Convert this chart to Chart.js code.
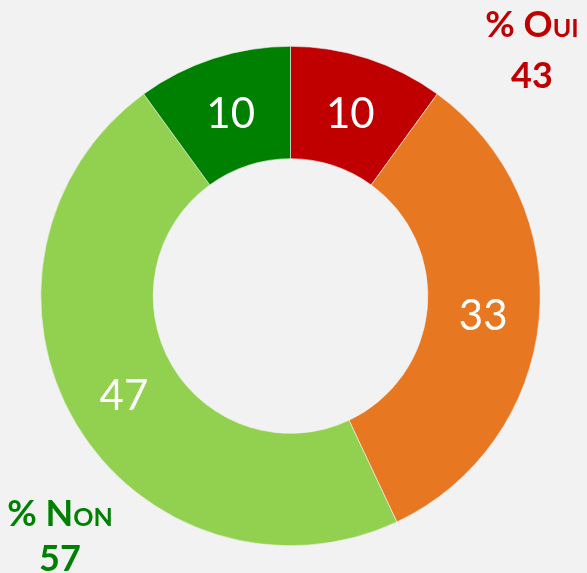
<!DOCTYPE html>
<html>
<head>
<meta charset="utf-8">
<script src="https://cdn.jsdelivr.net/npm/chart.js@4"></script>
<style>
  html, body { margin: 0; padding: 0; background: #f2f2f2; }
  #wrap { width: 587px; height: 573px; }
</style>
</head>
<body>
<div id="wrap"><canvas id="chartVote"></canvas></div>
<script>
// data
let categories = ['Oui tout à fait', 'Oui plutôt', 'Non plutôt pas', 'Non pas du tout'];
let values = [10, 33, 47, 10];
let colors = ['#c00000', '#e87722', '#92d050', '#008000'];
let totalLabels = ['% Oui', '% Non'];
let totalValues = [43, 57];
let totalColors = ['#c00000', '#008000'];

let fontName = 'Lato, "Open Sans", sans-serif';

// white value labels in the middle of each slice
let sliceLabels = {
    id: 'sliceLabels',
    afterDatasetsDraw(chart) {
        let ctx = chart.ctx;
        let meta = chart.getDatasetMeta(0);
        ctx.save();
        ctx.fillStyle = '#ffffff';
        ctx.font = '42px ' + fontName;
        ctx.textAlign = 'center';
        ctx.textBaseline = 'middle';
        meta.data.forEach((arc, i) => {
            let p = arc.tooltipPosition();
            ctx.fillText(String(values[i]), p.x, p.y + 2);
        });
        ctx.restore();
    }
};

// the two totals in the corners
let totals = {
    id: 'totals',
    afterDraw(chart) {
        let ctx = chart.ctx;
        let spots = [[532, 37, 88], [60, 526, 571]];
        ctx.save();
        ctx.textAlign = 'center';
        ctx.textBaseline = 'alphabetic';
        totalLabels.forEach((t, i) => {
            ctx.fillStyle = totalColors[i];
            ctx.font = 'bold 36px ' + fontName;
            ctx.fontVariantCaps = 'small-caps';
            ctx.fillText(t, spots[i][0], spots[i][1]);
            ctx.fontVariantCaps = 'normal';
            ctx.fillText(String(totalValues[i]), spots[i][0], spots[i][2]);
        });
        ctx.restore();
    }
};

let config = {
    type: 'doughnut',
    data: {
        labels: categories,
        datasets: [{
            data: values,
            backgroundColor: colors,
            borderColor: '#f2f2f2',
            borderWidth: 0.6
        }]
    },
    options: {
        responsive: true,
        maintainAspectRatio: false,
        animation: false,
        cutout: '55%',
        layout: {
            padding: { left: 40, right: 46, top: 46, bottom: 27 }
        },
        plugins: {
            legend: { display: false },
            tooltip: { enabled: false }
        }
    },
    plugins: [sliceLabels, totals]
};

let chartVote = new Chart(document.querySelector('#chartVote').getContext('2d'), config);
</script>
</body>
</html>
